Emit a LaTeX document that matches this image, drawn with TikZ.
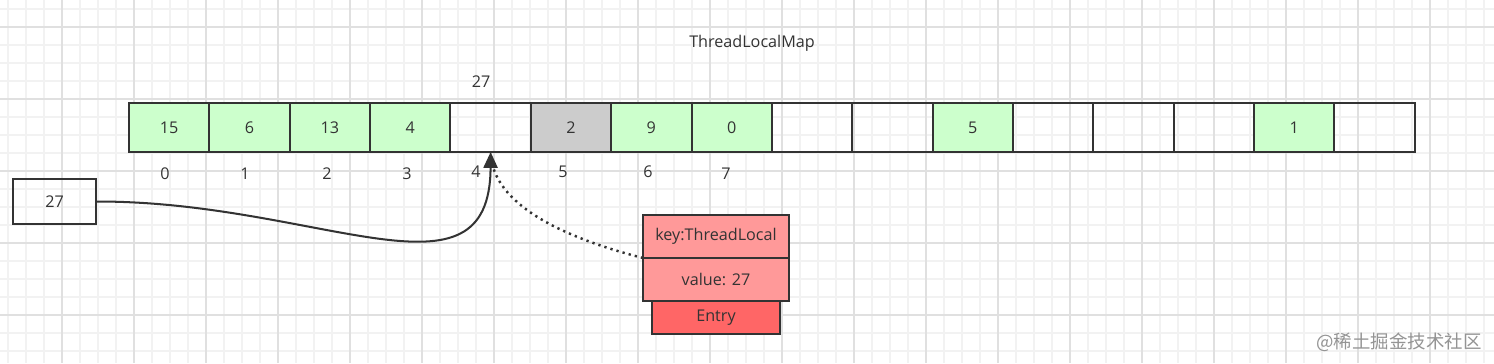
\documentclass[tikz,border=0pt]{standalone}
\usepackage{fontspec}
\setmainfont{Open Sans}
\newfontfamily\cjkfont{Noto Sans CJK SC}
\usepackage{tikz}
\usetikzlibrary{arrows.meta, positioning}
\definecolor{CellGreen}{HTML}{CCFFCC}
\definecolor{CellGrey}{HTML}{CCCCCC}
\definecolor{EntryPink}{HTML}{FF9999}
\definecolor{EntryRed}{HTML}{FF6666}
\definecolor{InkGrey}{HTML}{333333}
\definecolor{GridMinor}{HTML}{F2F2F2}
\definecolor{GridMajor}{HTML}{E0E0E0}

\begin{document}
\begin{tikzpicture}[x=0.02cm, y=-0.02cm, >=Triangle, text=InkGrey,
  font=\fontsize{9.2}{11}\selectfont,
  cell/.style={draw=InkGrey, line width=1.15pt, minimum width=1.6075cm,
               minimum height=0.98cm, inner sep=0pt, outer sep=0pt},
  full/.style={cell, fill=CellGreen},
  entrybox/.style={draw=InkGrey, line width=1.15pt, fill=EntryPink,
                   minimum width=2.92cm, minimum height=0.86cm, outer sep=0pt},
  label/.style={inner sep=1pt}]
  % grid background
  \useasboundingbox (0,0) rectangle (1494,363);
  \fill[white] (0,0) rectangle (1494,363);
  \foreach \gx in {8,26,...,1494} \draw[GridMinor, line width=0.6pt] (\gx,0) -- (\gx,363);
  \foreach \gy in {9,27,...,363} \draw[GridMinor, line width=0.6pt] (0,\gy) -- (1494,\gy);
  \foreach \gx in {62,134,...,1494} \draw[GridMajor, line width=0.6pt] (\gx,0) -- (\gx,363);
  \foreach \gy in {27,99,...,363} \draw[GridMajor, line width=0.6pt] (0,\gy) -- (1494,\gy);

  \node[label] (title) at (752,43) {ThreadLocalMap};

  % table slots
  \node[full] (c0) at (169.2,127.5) {15};
  \node[full, right=0pt of c0] (c1) {6};
  \node[full, right=0pt of c1] (c2) {13};
  \node[full, right=0pt of c2] (c3) {4};
  \node[cell, right=0pt of c3] (c4) {};
  \node[cell, fill=CellGrey, right=0pt of c4] (c5) {2};
  \node[full, right=0pt of c5] (c6) {9};
  \node[full, right=0pt of c6] (c7) {0};
  \node[cell, right=0pt of c7] (c8) {};
  \node[cell, right=0pt of c8] (c9) {};
  \node[full, right=0pt of c9] (c10) {5};
  \node[cell, right=0pt of c10] (c11) {};
  \node[cell, right=0pt of c11] (c12) {};
  \node[cell, right=0pt of c12] (c13) {};
  \node[full, right=0pt of c13] (c14) {1};
  \node[cell, right=0pt of c14] (c15) {};

  \node[label] (hash) at (481,82) {27};

  % slot indices
  \node[label] (i0) at (165,174) {0};
  \node[label] (i1) at (245,174) {1};
  \node[label] (i2) at (327,174) {2};
  \node[label] (i3) at (407,174) {3};
  \node[label] (i4) at (476,172) {4};
  \node[label] (i5) at (563,172) {5};
  \node[label] (i6) at (648,172) {6};
  \node[label] (i7) at (726,174) {7};

  \node[cell, minimum width=1.66cm, minimum height=0.9cm] (value) at (54.5,201.5) {27};

  % entry object
  \node[entrybox] (key) at (716,236.5) {key:ThreadLocal};
  \node[entrybox, below=0pt of key] (val) {value: 27};
  \node[entrybox, fill=EntryRed, minimum width=2.56cm, minimum height=0.66cm,
        below=0pt of val] (entry) {Entry};

  \draw[InkGrey, line width=1.4pt, dash pattern=on 1.3pt off 2.3pt]
    (key.south west) .. controls (565,238) and (492,205) .. (c4.south);
  \draw[->, InkGrey, line width=1.15pt, arrows={-Triangle[length=9pt, width=8pt]}]
    (value.east) .. controls (320,201) and (490,312) .. (c4.south);

  \node[text=black!42] (mark) at (1399,342)
    {\fontsize{10.5}{12}\selectfont\cjkfont @稀土掘金技术社区};
\end{tikzpicture}
\end{document}
